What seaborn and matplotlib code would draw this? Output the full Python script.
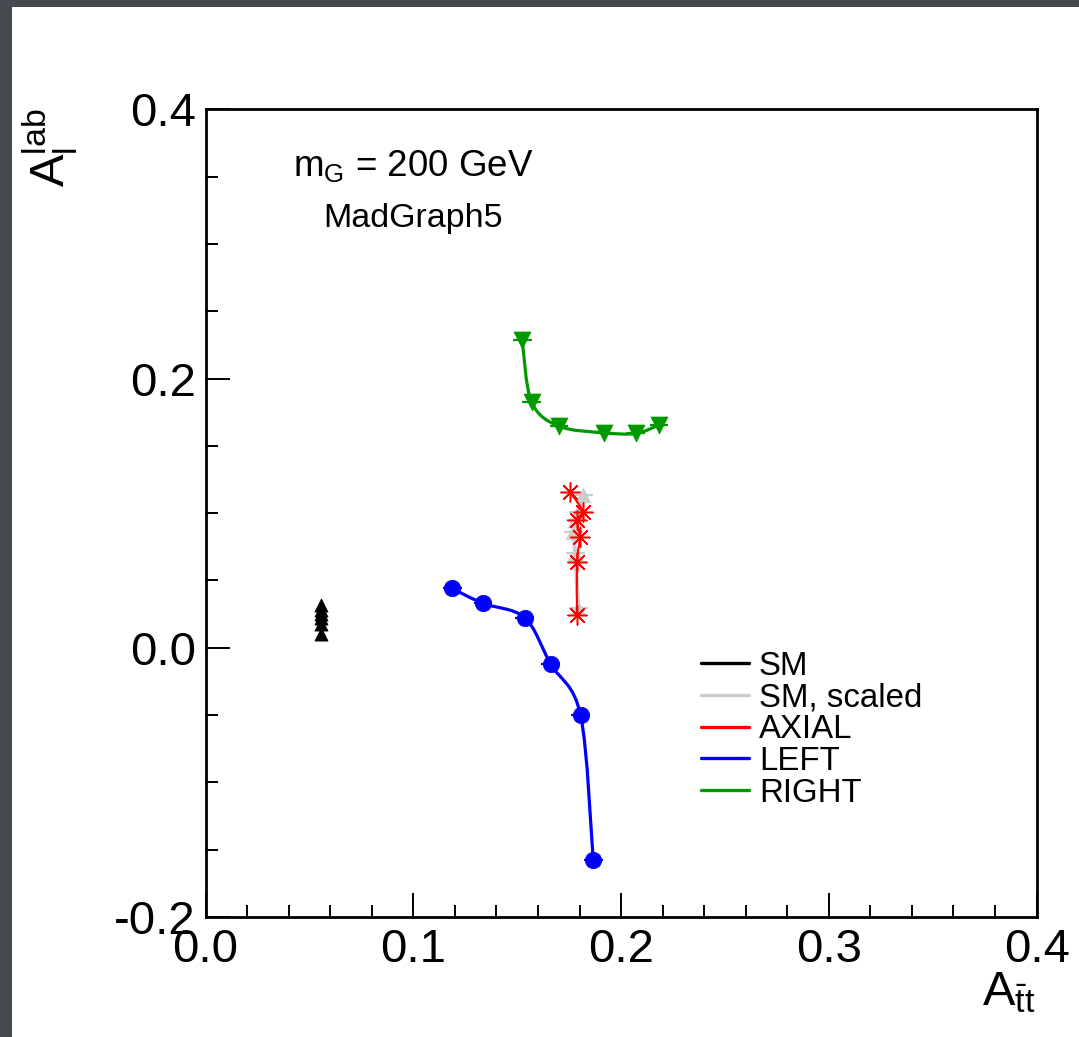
import numpy as np
import pandas as pd
import matplotlib
matplotlib.use('Agg')
import matplotlib.pyplot as plt
from matplotlib.path import Path
from matplotlib.patches import PathPatch, Rectangle
from matplotlib.lines import Line2D
from matplotlib.ticker import MultipleLocator
import seaborn as sns

# values (A_ttbar, A_l^lab)
sm_x = [0.0556, 0.0558, 0.0555, 0.0557, 0.0556, 0.0557]
sm_y = [0.032, 0.028, 0.025, 0.022, 0.018, 0.010]
smsc_x = [0.1819, 0.1795, 0.1779, 0.1771, 0.1779, 0.1795]
smsc_y = [0.1134, 0.1010, 0.0948, 0.0861, 0.0703, 0.0295]
axial_x = [0.1755, 0.1817, 0.1788, 0.1802, 0.1788, 0.1788]
axial_y = [0.1156, 0.1008, 0.0948, 0.0822, 0.0636, 0.0243]
left_x = [0.1187, 0.1335, 0.1536, 0.1661, 0.1805, 0.1866]
left_y = [0.0441, 0.0330, 0.0223, -0.0121, -0.0500, -0.1577]
right_x = [0.1524, 0.1569, 0.1701, 0.1918, 0.2070, 0.2182]
right_y = [0.2285, 0.1827, 0.1646, 0.1597, 0.1592, 0.1654]

series = ['SM', 'SM, scaled', 'AXIAL', 'LEFT', 'RIGHT']
colors = ['black', '#cccccc', '#ff0000', '#0000ff', '#009900']

sns.set_theme(style='white')
plt.rcParams['font.family'] = ['Liberation Sans', 'DejaVu Sans']
plt.rcParams['mathtext.fontset'] = 'custom'
plt.rcParams['mathtext.rm'] = 'Liberation Sans'
plt.rcParams['mathtext.it'] = 'Liberation Sans'
plt.rcParams['mathtext.default'] = 'regular'
plt.rcParams['axes.unicode_minus'] = False
plt.rcParams['text.color'] = 'black'


def smooth_path(xs, ys):
    # smooth curve through the points (like ROOT's "C" draw option)
    p = np.column_stack([xs, ys])
    n = len(p)
    verts = [p[0]]
    codes = [Path.MOVETO]
    for i in range(n - 1):
        p0 = p[i - 1] if i > 0 else p[i]
        p3 = p[i + 2] if i + 2 < n else p[i + 1]
        verts += [p[i] + (p[i + 1] - p0) / 6, p[i + 1] - (p3 - p[i]) / 6, p[i + 1]]
        codes += [Path.CURVE4] * 3
    return Path(verts, codes)


fig = plt.figure(figsize=(10.79, 10.37), dpi=100)
fig.patch.set_facecolor('#474950')
fig.add_artist(Rectangle((12 / 1079, 0), 1, 1 - 7 / 1037, transform=fig.transFigure,
                         facecolor='white', edgecolor='none', zorder=0))

ax = fig.add_axes([0.1905, 0.1157, 0.7702, 0.7789])
ax.set_facecolor('white')

data = {
    'SM': (sm_x, sm_y),
    'SM, scaled': (smsc_x, smsc_y),
    'AXIAL': (axial_x, axial_y),
    'LEFT': (left_x, left_y),
    'RIGHT': (right_x, right_y),
}
markers = {'SM': '^', 'SM, scaled': '^', 'AXIAL': (8, 2, 0), 'LEFT': 'o', 'RIGHT': 'v'}
msizes = {'SM': 90, 'SM, scaled': 110, 'AXIAL': 190, 'LEFT': 140, 'RIGHT': 150}
lws = {'SM': 1.5, 'SM, scaled': 2.8, 'AXIAL': 1.5, 'LEFT': 2.3, 'RIGHT': 2.3}
zs = {'SM': 3, 'SM, scaled': 5, 'AXIAL': 7, 'LEFT': 3, 'RIGHT': 3}

for name, col in zip(series, colors):
    xs, ys = data[name]
    df = pd.DataFrame({'x': xs, 'y': ys})
    ax.add_patch(PathPatch(smooth_path(xs, ys), facecolor='none', edgecolor=col,
                           lw=lws[name], zorder=zs[name] - 1))
    if name in ('LEFT', 'RIGHT', 'SM, scaled'):
        ax.errorbar(df['x'], df['y'], xerr=0.0045, fmt='none', ecolor=col,
                    elinewidth=1.6, capsize=0, zorder=zs[name] - 1)
    if name == 'AXIAL':
        sns.scatterplot(data=df, x='x', y='y', ax=ax, marker=markers[name],
                        s=msizes[name], color=col, linewidth=1.1, zorder=zs[name])
    else:
        sns.scatterplot(data=df, x='x', y='y', ax=ax, marker=markers[name],
                        s=msizes[name], color=col, edgecolor=col, linewidth=0.5,
                        zorder=zs[name])

ax.set_xlim(0, 0.4)
ax.set_ylim(-0.2, 0.4)
ax.set_xlabel('')
ax.set_ylabel('')
ax.xaxis.set_major_locator(MultipleLocator(0.1))
ax.xaxis.set_minor_locator(MultipleLocator(0.02))
ax.yaxis.set_major_locator(MultipleLocator(0.2))
ax.yaxis.set_minor_locator(MultipleLocator(0.05))
ax.tick_params(which='both', direction='in', top=False, right=False,
               bottom=True, left=True, colors='black', labelsize=34)
ax.tick_params(which='major', length=17, width=1.4)
ax.tick_params(which='minor', length=8.5, width=1.4)
ax.tick_params(axis='x', which='major', pad=8)
ax.tick_params(axis='y', which='major', pad=7)
for sp in ax.spines.values():
    sp.set_visible(True)
    sp.set_color('black')
    sp.set_linewidth(2.0)

fig.text(50 / 1079, 1 - 108 / 1037, r'$A_{l}^{lab}$', rotation=90, fontsize=35,
         ha='center', va='top', color='black')
fig.text(1036 / 1079, 1 - 970 / 1037, r'$A_{\bar{t}t}$', fontsize=35,
         ha='right', va='top', color='black')

ax.text(293 / 1079, 1 - 176 / 1037, r'$m_{G}$ = 200 GeV', fontsize=26.5,
        transform=fig.transFigure, ha='left', va='baseline', color='black')
ax.text(323 / 1079, 1 - 227 / 1037, 'MadGraph5', fontsize=24.5,
        transform=fig.transFigure, ha='left', va='baseline', color='black')

handles = [Line2D([], [], color=c, lw=2.4) for c in colors]
leg = ax.legend(handles, series, loc='upper left',
                bbox_to_anchor=(701 / 1079, 1 - 651 / 1037),
                bbox_transform=fig.transFigure, frameon=False, fontsize=23.8,
                handlelength=1.45, handletextpad=0.3, labelspacing=0.02,
                borderpad=0, borderaxespad=0)
for t in leg.get_texts():
    t.set_color('black')

fig.savefig('out.png', dpi=100, facecolor=fig.get_facecolor())
